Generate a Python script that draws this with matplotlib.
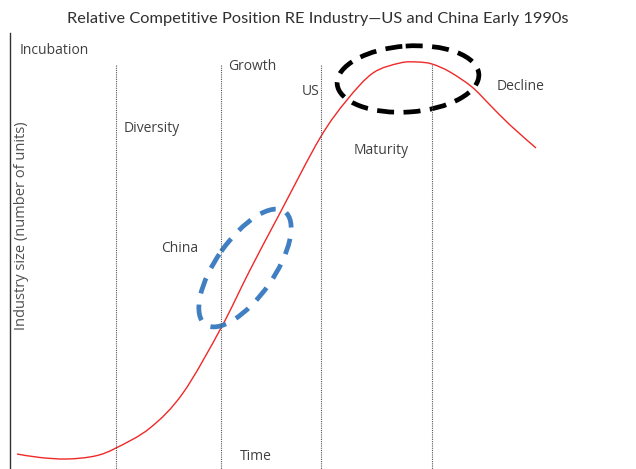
import matplotlib.pyplot as plt
from matplotlib.patches import Ellipse, PathPatch
from matplotlib.path import Path

# life-cycle curve (x = time, y = screen units, larger = lower)
curve_x = [17, 40, 67, 95, 116, 150, 183, 221, 250, 280, 320, 347, 373, 400, 417, 432, 450, 472, 490, 510, 536]
curve_y = [454, 457.5, 459, 456, 448, 428, 393, 328, 270, 213, 138, 100, 73, 63, 62, 64, 72, 87, 105, 125, 148]

# stage boundaries
stage_edges = [116, 221, 321, 432]

stage_labels = ["Incubation", "Diversity", "Growth", "US", "Maturity", "Decline", "China", "Time"]
label_pos = [(20, 51), (124, 129), (228, 67), (302, 92), (354, 151), (497, 87), (161, 248), (240, 456)]

# highlighted regions: (cx, cy, width, height, angle)
china_zone = (245, 268, 138, 58, -55)
us_zone = (408, 79, 142, 66, -4)


def smooth_path(xs, ys):
    # Catmull-Rom through the points, written as cubic Bezier segments
    pts = list(zip(xs, ys))
    verts = [pts[0]]
    codes = [Path.MOVETO]
    for i in range(len(pts) - 1):
        p0 = pts[max(i - 1, 0)]
        p1 = pts[i]
        p2 = pts[i + 1]
        p3 = pts[min(i + 2, len(pts) - 1)]
        c1 = (p1[0] + (p2[0] - p0[0]) / 6, p1[1] + (p2[1] - p0[1]) / 6)
        c2 = (p2[0] - (p3[0] - p1[0]) / 6, p2[1] - (p3[1] - p1[1]) / 6)
        verts += [c1, c2, p2]
        codes += [Path.CURVE4] * 3
    return Path(verts, codes)


W, H = 636, 469
fig = plt.figure(figsize=(W / 100, H / 100), dpi=100)
ax = fig.add_axes([10 / W, 0, (W - 10) / W, (H - 33) / H])
ax.set_xlim(10, W)
ax.set_ylim(H, 33)
for s in ["top", "right", "bottom"]:
    ax.spines[s].set_visible(False)
ax.spines["left"].set_color("#333333")
ax.spines["left"].set_linewidth(1.0)
ax.set_xticks([])
ax.set_yticks([])

ax.vlines(stage_edges, 65, H, colors="#555555", linestyles=(0, (1, 1)), linewidth=0.8)

ax.add_patch(PathPatch(smooth_path(curve_x, curve_y), fill=False, edgecolor="#f02828", linewidth=1.0))

e1 = Ellipse(china_zone[:2], china_zone[2], china_zone[3], angle=china_zone[4],
             fill=False, edgecolor="#3f7fc2", linewidth=3.4, linestyle=(0, (3.4, 2.4)))
e2 = Ellipse(us_zone[:2], us_zone[2], us_zone[3], angle=us_zone[4],
             fill=False, edgecolor="black", linewidth=3.4, linestyle=(0, (3.6, 2.0)))
ax.add_patch(e1)
ax.add_patch(e2)

txt = dict(fontsize=10, color="#404040", family=["Open Sans", "DejaVu Sans"], va="center", ha="left")
for lab, (x, y) in zip(stage_labels, label_pos):
    ax.text(x, y, lab, **txt)

fig.text(318 / W, 1 - 19 / H, "Relative Competitive Position RE Industry\u2014US and China Early 1990s",
         ha="center", va="center", fontsize=11.8, color="#303030",
         family=["Lato", "DejaVu Sans"])
fig.text(22 / W, 1 - 226 / H, "Industry size (number of units)", rotation=90,
         ha="center", va="center", fontsize=10.5, color="#505050",
         family=["Open Sans", "DejaVu Sans"])

fig.savefig("out.png", dpi=100)
